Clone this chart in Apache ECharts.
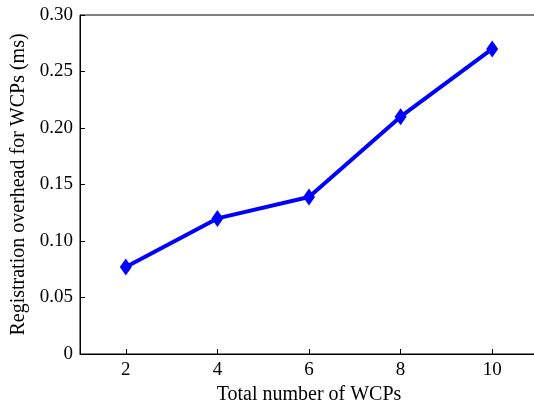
<!DOCTYPE html>
<html><head><meta charset="utf-8">
<script src="https://cdn.jsdelivr.net/npm/echarts@6/dist/echarts.min.js"></script>
<style>html,body{margin:0;padding:0;background:#fff}#c{width:534px;height:401px}</style>
</head><body><div id="c"></div>
<script>
const wcps = [2, 4, 6, 8, 10];
const overhead = [0.077, 0.12, 0.139, 0.21, 0.27];
const xTicks = [2, 4, 6, 8, 10];
const xTitle = 'Total number of WCPs';
const yTitle = 'Registration overhead for WCPs (ms)';

const font = 'Liberation Serif, Times New Roman, serif';
const chart = echarts.init(document.getElementById('c'));
chart.setOption({
  animation: false,
  grid: { left: 80, top: 15, right: -4, bottom: 47, outerBoundsMode: 'none', containLabel: false,
    show: true, borderColor: '#000', borderWidth: 1 },
  xAxis: {
    type: 'value', min: 1, max: 11,
    name: xTitle, nameLocation: 'middle', nameGap: 21,
    nameTextStyle: { fontFamily: font, fontSize: 20, color: '#000' },
    axisLine: { lineStyle: { color: '#000', width: 1 } },
    axisTick: { inside: true, length: 5, customValues: xTicks, lineStyle: { color: '#000' } },
    axisLabel: { customValues: xTicks, fontFamily: font, fontSize: 19, color: '#000', margin: 7 },
    splitLine: { show: false }
  },
  yAxis: {
    type: 'value', min: 0, max: 0.3, interval: 0.05,
    name: yTitle, nameLocation: 'middle', nameGap: 46,
    nameTextStyle: { fontFamily: font, fontSize: 20, color: '#000' },
    axisLine: { show: true, lineStyle: { color: '#000', width: 1 } },
    axisTick: { show: true, inside: true, length: 5, lineStyle: { color: '#000' } },
    axisLabel: { fontFamily: font, fontSize: 19, color: '#000', margin: 7,
      formatter: v => v === 0 ? '0' : v.toFixed(2) },
    splitLine: { show: false }
  },
  series: [{
    type: 'line',
    data: wcps.map((x, i) => [x, overhead[i]]),
    symbol: 'diamond', symbolSize: [12, 17],
    lineStyle: { color: '#0000ff', width: 4 },
    itemStyle: { color: '#0000ff' }
  }]
});
</script></body></html>
